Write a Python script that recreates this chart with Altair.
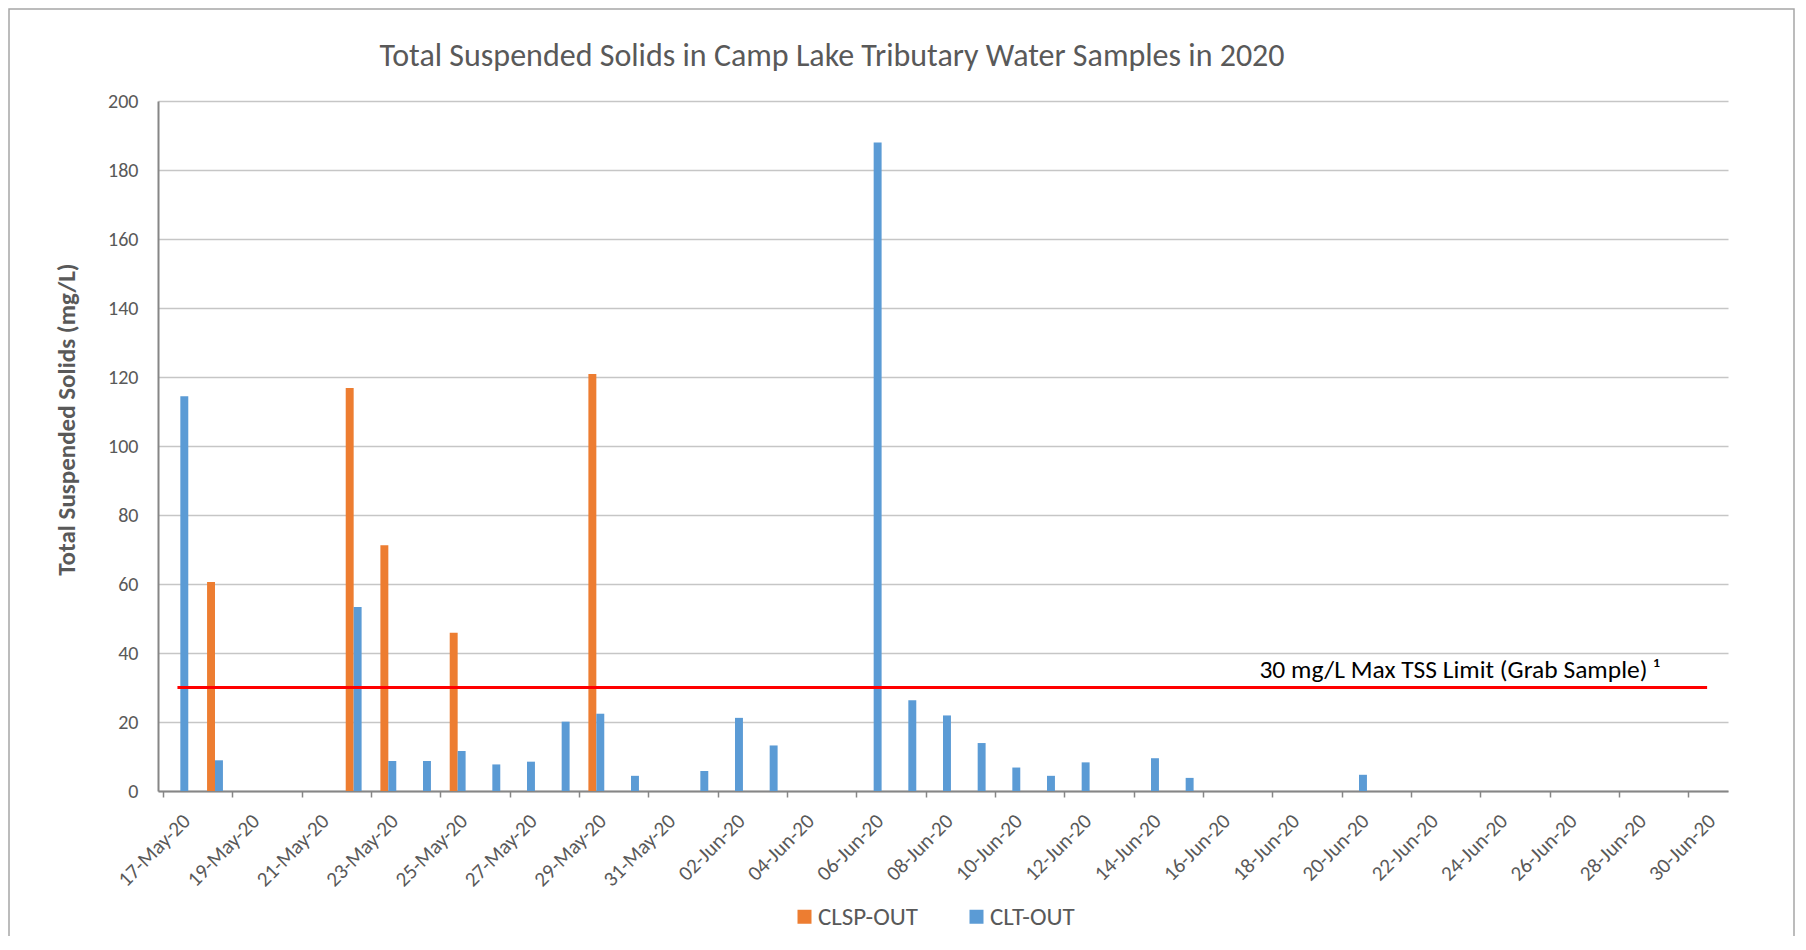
import altair as alt
import pandas as pd

FONT = "Carlito, Lato, sans-serif"

# ---- data ----
series_names = ["CLSP-OUT", "CLT-OUT"]
series_colors = ["#ED7D31", "#5B9BD5"]

clsp_dates = ["2020-05-18", "2020-05-22", "2020-05-23", "2020-05-25", "2020-05-29"]
clsp_values = [60.6, 116.8, 71.2, 45.9, 120.9]

clt_dates = ["2020-05-17", "2020-05-18", "2020-05-22", "2020-05-23", "2020-05-24",
             "2020-05-25", "2020-05-26", "2020-05-27", "2020-05-28", "2020-05-29",
             "2020-05-30", "2020-06-01", "2020-06-02", "2020-06-03", "2020-06-06",
             "2020-06-07", "2020-06-08", "2020-06-09", "2020-06-10", "2020-06-11",
             "2020-06-12", "2020-06-14", "2020-06-15", "2020-06-20"]
clt_values = [114.4, 8.9, 53.3, 8.7, 8.7,
              11.6, 7.7, 8.5, 20.1, 22.4,
              4.4, 5.8, 21.2, 13.2, 188.0,
              26.3, 21.9, 13.9, 6.8, 4.4,
              8.3, 9.5, 3.8, 4.7]

limit_value = 30
limit_start = "2020-05-17T10:00:00Z"
limit_end = "2020-06-30T13:00:00Z"
limit_label = "30 mg/L Max TSS Limit (Grab Sample) \u00b9"
limit_label_at = "2020-06-29T04:00:00Z"

y_ticks = [0, 20, 40, 60, 80, 100, 120, 140, 160, 180, 200]
x_start = (2020, 5, 17)
x_end = (2020, 7, 1)

title_text = "Total Suspended Solids in Camp Lake Tributary Water Samples in 2020"
y_title = "Total Suspended Solids (mg/L)"

# ---- tables: each day's cluster sits in the middle of its day slot,
#      CLSP-OUT in the left half of the cluster, CLT-OUT in the right half ----
clsp_df = pd.DataFrame({"series": series_names[0],
                        "t0": [d + "T06:30:00Z" for d in clsp_dates],
                        "t1": [d + "T12:00:00Z" for d in clsp_dates],
                        "value": clsp_values})
clt_df = pd.DataFrame({"series": series_names[1],
                       "t0": [d + "T12:00:00Z" for d in clt_dates],
                       "t1": [d + "T17:30:00Z" for d in clt_dates],
                       "value": clt_values})
bars_df = pd.concat([clsp_df, clt_df], ignore_index=True)
limit_df = pd.DataFrame({"start": [limit_start], "end": [limit_end], "value": [limit_value],
                         "label": [limit_label], "at": [limit_label_at]})

day_ticks = list(pd.date_range("2020-05-17", "2020-07-01", freq="D"))
tick_values = [alt.DateTime(year=t.year, month=t.month, date=t.day, utc=True) for t in day_ticks]

x_scale = alt.Scale(type="utc", nice=False,
                    domain=[alt.DateTime(year=x_start[0], month=x_start[1], date=x_start[2], utc=True),
                            alt.DateTime(year=x_end[0], month=x_end[1], date=x_end[2], utc=True)])
y_scale = alt.Scale(domain=[0, 200], nice=False)

x_axis = alt.Axis(
    values=tick_values,
    labelExpr="(floor((datum.value - 1589673600000) / 86400000) % 2 == 0) ? utcFormat(datum.value, '%d-%b-%y') : ''",
    labelAngle=-45, labelAlign="right", labelBaseline="top",
    labelOffset=16, labelPadding=13, labelFontSize=21, labelColor="#595959",
    labelFont=FONT, labelOverlap=False, labelBound=False,
    tickSize=6, tickColor="#868686", tickWidth=1.5,
    domainColor="#868686", domainWidth=2, grid=False, title=None,
)
y_axis = alt.Axis(
    values=y_ticks, grid=True, gridColor="#c6c6c6", gridWidth=1.5,
    domainColor="#868686", domainWidth=2, ticks=False,
    labelFontSize=20, labelColor="#595959", labelFont=FONT, labelPadding=20,
    title=y_title, titleFont=FONT, titleFontSize=25, titleFontWeight="bold",
    titleColor="#595959", titleAngle=-90, titleX=-92, titleY=318,
    titleAlign="center", titleBaseline="middle",
)

color = alt.Color("series:N",
                  scale=alt.Scale(domain=series_names, range=series_colors),
                  legend=alt.Legend(orient="none", legendX=634, legendY=803, direction="horizontal",
                                    title=None, symbolType="square", symbolSize=196,
                                    symbolStrokeWidth=0, labelFontSize=25, labelColor="#595959",
                                    labelFont=FONT, columnPadding=46, labelOffset=1, padding=0))

bars = alt.Chart(bars_df).mark_bar(orient="vertical").encode(
    x=alt.X("t0:T", scale=x_scale, axis=x_axis),
    x2="t1:T",
    y=alt.Y("value:Q", scale=y_scale, axis=y_axis),
    y2=alt.datum(0),
    color=color,
)

rule = alt.Chart(limit_df).mark_rule(color="#FF0000", strokeWidth=3).encode(
    x=alt.X("start:T", scale=x_scale), x2="end:T", y=alt.Y("value:Q", scale=y_scale)
)
label = alt.Chart(limit_df).mark_text(align="right", baseline="alphabetic", dy=-10,
                                      fontSize=25.5, font=FONT, color="#000000").encode(
    x=alt.X("at:T", scale=x_scale), y=alt.Y("value:Q", scale=y_scale), text="label:N"
)

border = alt.Chart(pd.DataFrame({"k": [0]})).mark_rect(
    filled=False, stroke="#a6a6a6", strokeWidth=1.5
).encode(x=alt.value(-149), x2=alt.value(1636), y=alt.value(-92), y2=alt.value(900))

chart = alt.layer(border, bars, rule, label).properties(
    width=1570, height=690,
    padding={"left": 150, "top": 93, "right": 68, "bottom": 145},
    autosize=alt.AutoSizeParams(type="none"),
    title=alt.TitleParams(title_text, font=FONT, fontSize=32, fontWeight="normal",
                          color="#595959", anchor="middle", frame="group", dx=-111,
                          offset=0, dy=65),
).configure_view(strokeWidth=0)

chart.save("out.html", embed_options={"renderer": "svg", "actions": False})
